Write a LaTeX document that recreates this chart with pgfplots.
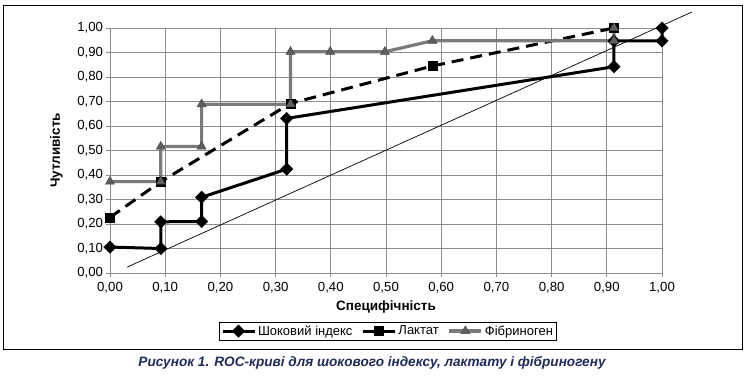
\documentclass[border=0pt]{standalone}
\usepackage{fontspec}
\setmainfont{Liberation Sans}
\usepackage{pgfplots}
\pgfplotsset{compat=1.18}
\definecolor{gridgray}{HTML}{8C8C8C}
\definecolor{fibgray}{HTML}{7A7A7A}
\definecolor{fibmark}{HTML}{5E5E5E}
\definecolor{capblue}{HTML}{1F2A5A}
\begin{document}
\begin{tikzpicture}
\path[use as bounding box] (-110pt,-103pt) rectangle (637pt,273pt);
\draw[black, line width=0.9pt] (-107pt,-76pt) rectangle (632pt,268pt);
\begin{axis}[
  at={(0pt,0pt)}, anchor=south west,
  scale only axis, width=552pt, height=245pt,
  xmin=0, xmax=1, ymin=0, ymax=1,
  xtick={0,0.1,0.2,0.3,0.4,0.5,0.6,0.7,0.8,0.9,1},
  ytick={0,0.1,0.2,0.3,0.4,0.5,0.6,0.7,0.8,0.9,1},
  xtick pos=left, ytick pos=left,
  grid=major,
  major grid style={gridgray, line width=0.8pt},
  axis line style={gridgray, line width=0.8pt},
  tick style={gridgray, line width=0.8pt},
  tick align=outside, major tick length=3.5pt,
  ticklabel style={font=\fontsize{13.2}{15}\selectfont},
  xticklabel style={yshift=-2.5pt},
  /pgf/number format/fixed,
  /pgf/number format/fixed zerofill,
  /pgf/number format/precision=2,
  /pgf/number format/use comma,
  /pgf/number format/assume math mode=true,
  xlabel={Специфічність},
  ylabel={Чутливість},
  label style={font=\bfseries\fontsize{13.5}{16}\selectfont},
  xlabel style={at={(axis description cs:0.5,-0.14)}, anchor=center},
  ylabel style={at={(axis description cs:-0.097,0.5)}, anchor=center},
  clip=false,
  legend style={at={(axis description cs:0.5036,-0.237)}, anchor=center,
    legend columns=-1, draw=black, line width=0.9pt,
    font=\fontsize{13}{15}\selectfont, inner sep=1.5pt,
    /tikz/every even column/.append style={column sep=7pt}},
  legend image code/.code={\draw[mark repeat=2,mark phase=2] plot coordinates {(0pt,0pt) (16pt,0pt) (32pt,0pt)};},
]
% reference diagonal
\addplot[black, line width=0.7pt, forget plot] coordinates {(0.031,0.024) (1.054,1.065)};
% Shock index
\addplot[black, line width=3pt, mark=square*, mark size=4.4pt,
  mark options={rotate=45, solid, line width=0.4pt}] coordinates {
  (0,0.106) (0.092,0.10) (0.092,0.209) (0.166,0.21) (0.166,0.309)
  (0.32,0.424) (0.32,0.631) (0.913,0.842) (0.913,0.947) (1.0,0.947) (1.0,1.0)};
\addlegendentry{Шоковий індекс}
% Lactate
\addplot[black, line width=3pt, dash pattern=on 12pt off 7pt, mark=square*, mark size=4.6pt,
  mark options={solid, line width=0.4pt},
  legend image code/.code={\draw[solid, mark repeat=2,mark phase=2] plot coordinates {(0pt,0pt) (16pt,0pt) (32pt,0pt)};}] coordinates {
  (0,0.227) (0.092,0.373) (0.327,0.692) (0.584,0.845) (0.913,1.0)};
\addlegendentry{Лактат}
% Fibrinogen
\addplot[fibgray, line width=3.2pt, mark=triangle*, mark size=5.2pt,
  mark options={solid, fill=fibmark, draw=black!70, line width=0.5pt}] coordinates {
  (0,0.373) (0.092,0.373) (0.092,0.516) (0.166,0.516) (0.166,0.689)
  (0.327,0.689) (0.327,0.903) (0.399,0.903) (0.498,0.903) (0.584,0.948)
  (0.913,0.948) (0.913,1.0)};
\addlegendentry{Фібриноген}
\end{axis}
\node[anchor=base, font=\bfseries\itshape\fontsize{13.6}{16}\selectfont, text=capblue] at (262pt,-93pt) {Рисунок 1. ROC-криві для шокового індексу, лактату і фібриногену};
\end{tikzpicture}
\end{document}
